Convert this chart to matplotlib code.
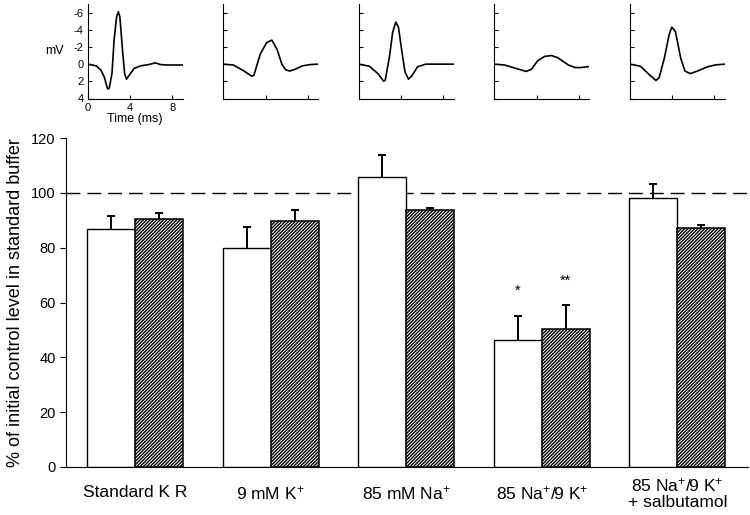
import matplotlib
matplotlib.use('Agg')
import matplotlib.pyplot as plt
import numpy as np

plt.rcParams['font.family'] = ['Liberation Sans', 'DejaVu Sans']
plt.rcParams['mathtext.default'] = 'regular'
plt.rcParams['axes.unicode_minus'] = False
plt.rcParams['hatch.linewidth'] = 1.0

# bar data (% of initial control level)
groups = ['Standard K R', '9 mM K$^{+}$', '85 mM Na$^{+}$', '85 Na$^{+}$/9 K$^{+}$',
          '85 Na$^{+}$/9 K$^{+}$\n+ salbutamol']
open_vals = [86.7, 79.8, 105.7, 46.4, 98.2]
open_err = [5.0, 7.9, 8.1, 8.8, 5.1]
hatch_vals = [90.6, 89.7, 93.9, 50.3, 87.3]
hatch_err = [2.2, 4.1, 0.5, 8.8, 1.1]
stars_open = ['', '', '', '*', '']
stars_hatch = ['', '', '', '**', '']
star_y_open = [0, 0, 0, 64.3, 0]
star_y_hatch = [0, 0, 0, 68.0, 0]

# inset waveforms (time in ms, potential in mV)
t1 = [0, 0.8, 1.26, 1.57, 1.89, 2.04, 2.3, 2.5, 2.74, 2.9, 3.05, 3.3, 3.5, 3.68, 3.93, 4.4, 5.0, 5.8, 6.4, 6.9, 7.5, 9.0]
v1 = [0, 0.2, 0.7, 1.5, 2.9, 2.8, 1.1, -2.8, -5.5, -6.1, -5.5, -1.6, 1.1, 1.75, 1.3, 0.5, 0.2, 0.05, -0.15, 0.05, 0.1, 0.1]
t2 = [0, 0.95, 1.9, 2.7, 2.9, 3.5, 4.1, 4.6, 5.1, 5.55, 5.9, 6.3, 6.8, 7.5, 8.25, 9.0]
v2 = [0, 0.1, 0.75, 1.4, 1.3, -1.15, -2.5, -2.8, -1.7, 0, 0.65, 0.8, 0.6, 0.2, 0.05, 0.0]
t3 = [0, 1.0, 1.8, 2.36, 2.5, 2.9, 3.2, 3.5, 3.75, 4.06, 4.37, 4.7, 5.0, 5.57, 6.35, 9.0]
v3 = [0, 0.25, 1.1, 2.0, 1.85, -0.85, -3.7, -4.9, -4.3, -1.6, 0.9, 1.75, 1.4, 0.3, 0, 0]
t4 = [0, 0.95, 1.9, 3.0, 3.5, 4.1, 4.75, 5.4, 6.0, 7.0, 7.65, 8.2, 9.0]
v4 = [0, 0.1, 0.45, 0.85, 0.6, -0.4, -0.9, -1.0, -0.75, 0.1, 0.4, 0.4, 0.27]
t5 = [0, 1.0, 1.8, 2.45, 2.75, 3.25, 3.7, 3.95, 4.3, 4.8, 5.2, 5.7, 6.4, 7.35, 8.15, 9.0]
v5 = [0, 0.25, 1.2, 1.9, 1.6, -0.7, -3.4, -4.3, -3.8, -0.7, 0.8, 1.1, 0.8, 0.3, 0.08, 0]
traces = [(t1, v1), (t2, v2), (t3, v3), (t4, v4), (t5, v5)]

fig = plt.figure(figsize=(7.5, 5.15), dpi=100)
ax = fig.add_axes([66/750, 1-467/515, 682/750, 329/515])

x = np.arange(len(groups))
w = 0.354
ax.axhline(100, color='black', lw=1, dashes=(10, 5), zorder=1)
ax.bar(x - w/2, open_vals, w, color='white', edgecolor='black', lw=1, zorder=2)
ax.bar(x + w/2, hatch_vals, w, color='white', edgecolor='black', lw=1.1, hatch='/' * 10, zorder=2)
for xs, vals, errs in [(x - w/2, open_vals, open_err), (x + w/2, hatch_vals, hatch_err)]:
    eb = ax.errorbar(xs, vals, yerr=[np.zeros(len(vals)), errs], fmt='none', ecolor='black',
                     elinewidth=1.4, capsize=3, capthick=1.4, zorder=1.5)
    eb[1][0].set_visible(False)  # no cap at the bar top
for i in range(len(groups)):
    if stars_open[i]:
        ax.text(x[i] - w/2, star_y_open[i], stars_open[i], ha='center', va='center', fontsize=10.5)
    if stars_hatch[i]:
        ax.text(x[i] + w/2, star_y_hatch[i], stars_hatch[i], ha='center', va='center', fontsize=10.5)

ax.set_xlim(-0.51, 4.52)
ax.set_ylim(0, 120)
ax.set_yticks(range(0, 121, 20))
ax.tick_params(axis='y', direction='out', length=4, labelsize=10.5)
ax.set_xticks([])
for s in ['top', 'right']:
    ax.spines[s].set_visible(False)
for i, g in enumerate(groups):
    ax.text(x[i], -0.079, g, transform=ax.get_xaxis_transform(), ha='center', va='center',
            fontsize=12.5, linespacing=1.05)
ax.set_ylabel('% of initial control level in standard buffer', fontsize=13, labelpad=5)

# insets of the compound action potentials
fig.canvas.draw()
inv = fig.transFigure.inverted()
for i, (tt, vv) in enumerate(traces):
    left = inv.transform(ax.transData.transform((x[i] - 0.35, 0)))[0]
    ia = fig.add_axes([left, 1-98.5/515, 95/750, 94.5/515])
    ia.plot(tt, vv, color='black', lw=1.2)
    ia.set_xlim(0, 9)
    ia.set_ylim(4, -7)
    ia.set_yticks([-6, -4, -2, 0, 2, 4])
    ia.set_xticks([0, 4, 8])
    ia.tick_params(direction='in', length=3, labelsize=8, pad=3)
    for s in ['top', 'right']:
        ia.spines[s].set_visible(False)
    if i == 0:
        ia.set_xlabel('Time (ms)', fontsize=9, labelpad=0)
        ia.set_ylabel('mV', fontsize=9, rotation=0, labelpad=14, va='center')
    else:
        ia.set_xticklabels([])
        ia.set_yticklabels([])

fig.savefig('out.png', dpi=100)
